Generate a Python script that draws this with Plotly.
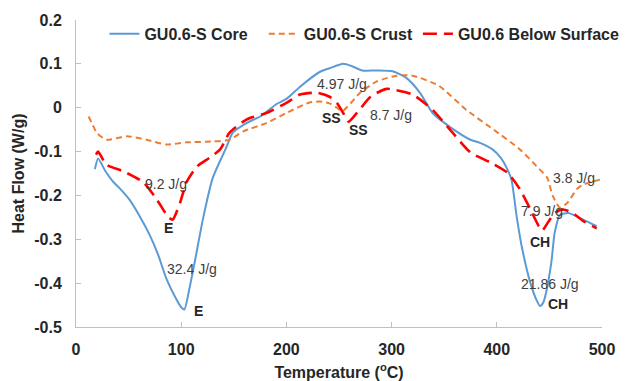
import plotly.graph_objects as go

# ---- data ----
core_t = [18, 21, 28, 35, 42, 51, 60, 70, 78, 86, 95, 100, 103, 108, 113, 121, 130, 143, 149, 162,
          175, 191, 200, 213, 232, 241, 254, 263, 272, 286, 301, 314, 327, 339, 355, 375, 384, 396,
          404, 410, 414, 419, 424, 432, 438, 441, 444, 447, 452, 455, 460, 468, 482, 495]
core_v = [-0.14, -0.116, -0.145, -0.168, -0.185, -0.21, -0.245, -0.29, -0.335, -0.39, -0.435, -0.455,
          -0.46, -0.41, -0.35, -0.25, -0.16, -0.09, -0.057, -0.035,
          -0.02, 0.009, 0.02, 0.048, 0.082, 0.09, 0.1, 0.094, 0.085, 0.085, 0.083, 0.068, 0.034, -0.012,
          -0.043, -0.073, -0.08, -0.095,
          -0.115, -0.14, -0.165, -0.25, -0.32, -0.4, -0.44, -0.452, -0.445, -0.42, -0.35, -0.285, -0.245,
          -0.24, -0.255, -0.27]

crust_t = [12, 16, 20, 29, 48, 67, 86, 105, 130, 146, 159, 181, 200, 222, 232, 241, 248, 253, 258,
           270, 286, 305, 320, 345, 371, 397, 422, 438, 448, 453, 460, 467, 476, 482, 489, 498]
crust_v = [-0.02, -0.04, -0.058, -0.073, -0.065, -0.073, -0.084, -0.079, -0.077, -0.073, -0.054,
           -0.035, -0.012, 0.012, 0.014, 0.01, 0.0, -0.008, 0.002,
           0.034, 0.06, 0.073, 0.073, 0.05, -0.005, -0.05, -0.095, -0.134, -0.16, -0.2, -0.228,
           -0.217, -0.186, -0.175, -0.17, -0.164]

below_t = [19, 21, 29, 45, 64, 77, 88, 92, 99, 105, 115, 127, 137, 146, 162, 181, 200, 213, 229,
           241, 248, 254, 259, 267, 280, 295, 304, 320, 339, 358, 375, 394, 410, 422, 432, 443, 449,
           455, 463, 472, 482, 495]
below_v = [-0.107, -0.1, -0.13, -0.145, -0.17, -0.21, -0.25, -0.255, -0.216, -0.17, -0.134, -0.114,
           -0.095, -0.057, -0.027, -0.012, 0.011, 0.03, 0.034,
           0.025, 0.011, -0.012, -0.032, -0.012, 0.025, 0.043, 0.04, 0.03, -0.005, -0.057, -0.102,
           -0.125, -0.148, -0.186, -0.232, -0.28, -0.26,
           -0.24, -0.232, -0.24, -0.258, -0.275]

series_names = ["GU0.6-S Core", "GU0.6-S Crust", "GU0.6 Below Surface"]

# annotation texts and anchor values
energy_labels = ["9.2 J/g", "32.4 J/g", "4.97 J/g", "8.7 J/g", "3.8 J/g", "7.9 J/g", "21.86 J/g"]
energy_t = [86, 110, 253, 299, 473, 443, 451]
energy_v = [-0.175, -0.368, 0.055, -0.016, -0.16, -0.236, -0.402]

peak_labels = ["E", "E", "SS", "SS", "CH", "CH"]
peak_t = [88, 116, 243, 269, 441, 458]
peak_v = [-0.275, -0.464, -0.023, -0.05, -0.307, -0.448]

x_ticks = [0, 100, 200, 300, 400, 500]
y_ticks = [0.2, 0.1, 0, -0.1, -0.2, -0.3, -0.4, -0.5]
y_tick_text = ["0.2", "0.1", "0", "-0.1", "-0.2", "-0.3", "-0.4", "-0.5"]

FONT = "Liberation Sans, Arial, sans-serif"

fig = go.Figure()
fig.add_trace(go.Scatter(x=core_t, y=core_v, mode="lines", name="<b>" + series_names[0] + "</b>",
                         legend="legend",
                         line=dict(color="#5B9BD5", width=2, shape="spline", smoothing=0.6)))
fig.add_trace(go.Scatter(x=crust_t, y=crust_v, mode="lines", name="<b>" + series_names[1] + "</b>",
                         legend="legend2",
                         line=dict(color="#ED7D31", width=2, dash="6px,4px", shape="spline", smoothing=0.6)))
fig.add_trace(go.Scatter(x=below_t, y=below_v, mode="lines", name="<b>" + series_names[2] + "</b>",
                         legend="legend3",
                         line=dict(color="#FF0000", width=2.6, dash="14px,7px", shape="spline", smoothing=0.6)))

for txt, t, v in zip(energy_labels, energy_t, energy_v):
    fig.add_annotation(x=t, y=v, text=txt, showarrow=False,
                       font=dict(family=FONT, size=14, color="#404040"))
for txt, t, v in zip(peak_labels, peak_t, peak_v):
    fig.add_annotation(x=t, y=v, text="<b>" + txt + "</b>", showarrow=False,
                       font=dict(family=FONT, size=14, color="#262626"))

leg_common = dict(orientation="h", y=0.955, xanchor="left", yanchor="middle",
                  bgcolor="rgba(0,0,0,0)", font=dict(family=FONT, size=16, color="#262626"))

fig.update_layout(
    width=630, height=381,
    margin=dict(l=76, r=28, t=20, b=54, autoexpand=False),
    paper_bgcolor="white", plot_bgcolor="white",
    font=dict(family=FONT, color="#262626"),
    showlegend=True,
    legend=dict(x=0.054, **leg_common),
    legend2=dict(x=0.357, **leg_common),
    legend3=dict(x=0.650, **leg_common),
)
fig.update_xaxes(range=[0, 500], tickvals=x_ticks, ticktext=["<b>%d</b>" % v for v in x_ticks],
                 showline=True, linecolor="#BFBFBF", linewidth=1, showgrid=False, zeroline=False,
                 ticks="inside", ticklen=5, tickcolor="#BFBFBF", ticklabelstandoff=8,
                 tickfont=dict(family=FONT, size=16, color="#262626"),
                 title=dict(text="<b>Temperature (<sup>o</sup>C)</b>", standoff=11,
                            font=dict(family=FONT, size=16, color="#262626")))
fig.update_yaxes(range=[-0.5, 0.2], tickvals=y_ticks, ticktext=["<b>" + s + "</b>" for s in y_tick_text],
                 showline=True, linecolor="#BFBFBF", linewidth=1, showgrid=False, zeroline=False,
                 ticks="inside", ticklen=5, tickcolor="#BFBFBF", ticklabelstandoff=10,
                 tickfont=dict(family=FONT, size=16, color="#262626"),
                 title=dict(text="<b>Heat Flow (W/g)</b>", standoff=5,
                            font=dict(family=FONT, size=16, color="#262626")))

fig.write_html("out.html")
